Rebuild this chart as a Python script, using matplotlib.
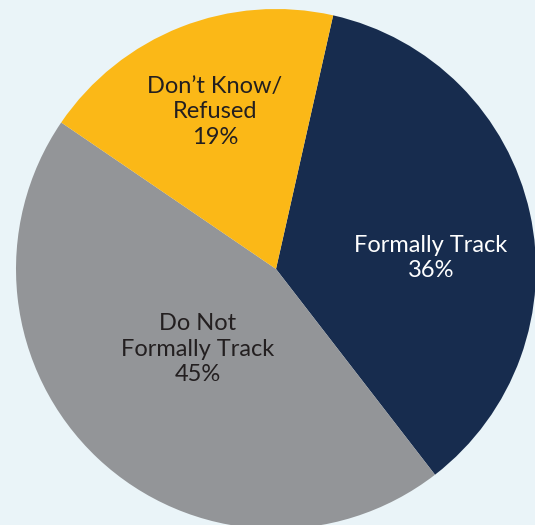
import matplotlib.pyplot as plt

# Data
labels = ["Formally Track", "Do Not\nFormally Track", "Don\u2019t Know/\nRefused"]
shares = [36, 45, 19]
colors = ["#172c4e", "#939598", "#fbb817"]
text_colors = ["white", "#231f20", "#231f20"]

# label centres in pixel coords (x, y from top)
label_pos = [(431, 258), (198, 349), (215, 112)]

plt.rcParams['font.family'] = ['Lato', 'DejaVu Sans']

fig = plt.figure(figsize=(5.35, 5.25), dpi=100)
fig.patch.set_facecolor("#eaf4f8")
ax = fig.add_axes([0, 0, 1, 1])

cx, cy, r = 276, 525 - 269, 260
ax.pie(shares, colors=colors, startangle=77.3, counterclock=False,
       center=(cx, cy), radius=r, frame=True,
       wedgeprops=dict(linewidth=0))
ax.set_xlim(0, 535)
ax.set_ylim(0, 525)
ax.set_aspect("equal")
ax.axis("off")

for lab, val, (x, y), tc in zip(labels, shares, label_pos, text_colors):
    ax.text(x, 525 - y, f"{lab}\n{val}%", ha="center", va="center",
            color=tc, fontsize=17, linespacing=1.28)

fig.savefig("out.png", dpi=100, facecolor=fig.get_facecolor())
